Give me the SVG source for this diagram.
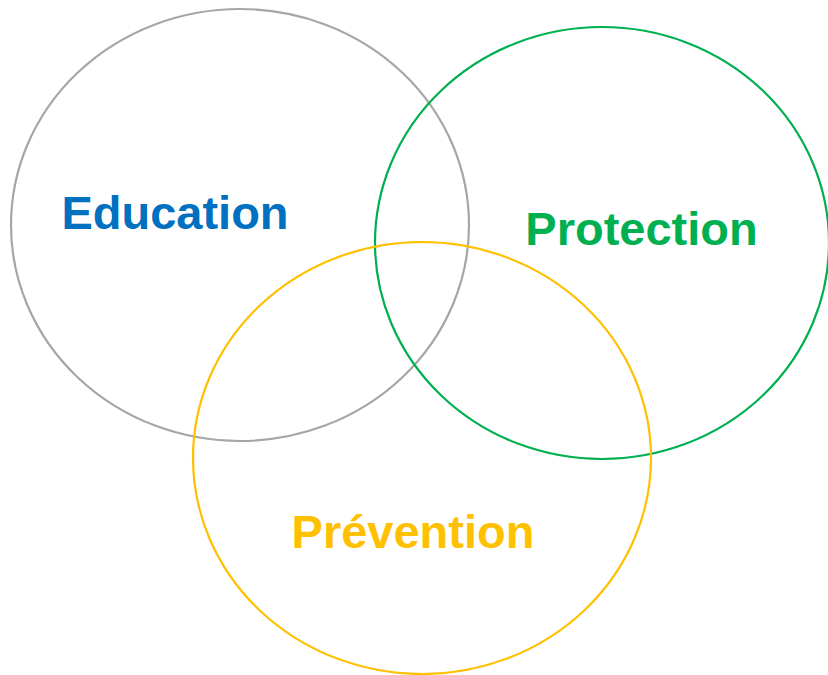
<svg xmlns="http://www.w3.org/2000/svg" width="828" height="675" viewBox="0 0 828 675">
  <style>
    .ring { fill: none; stroke-width: 2.2; }
    .label { font-family: "Liberation Sans", Arial, sans-serif; font-weight: bold; font-size: 47px; text-anchor: middle; }
  </style>
  <rect width="828" height="675" fill="#ffffff"/>
  <g id="education">
    <ellipse class="ring" cx="240" cy="225" rx="229" ry="216" stroke="#A6A6A6"/>
    <text class="label" x="175" y="229" fill="#0070C0">Education</text>
  </g>
  <g id="protection">
    <ellipse class="ring" cx="602" cy="243" rx="227" ry="216" stroke="#00B050"/>
    <text class="label" x="641.5" y="245" fill="#00B050">Protection</text>
  </g>
  <g id="prevention">
    <ellipse class="ring" cx="422" cy="458" rx="229" ry="216" stroke="#FFC000"/>
    <text class="label" x="413" y="548" fill="#FFC000">Prévention</text>
  </g>
</svg>
